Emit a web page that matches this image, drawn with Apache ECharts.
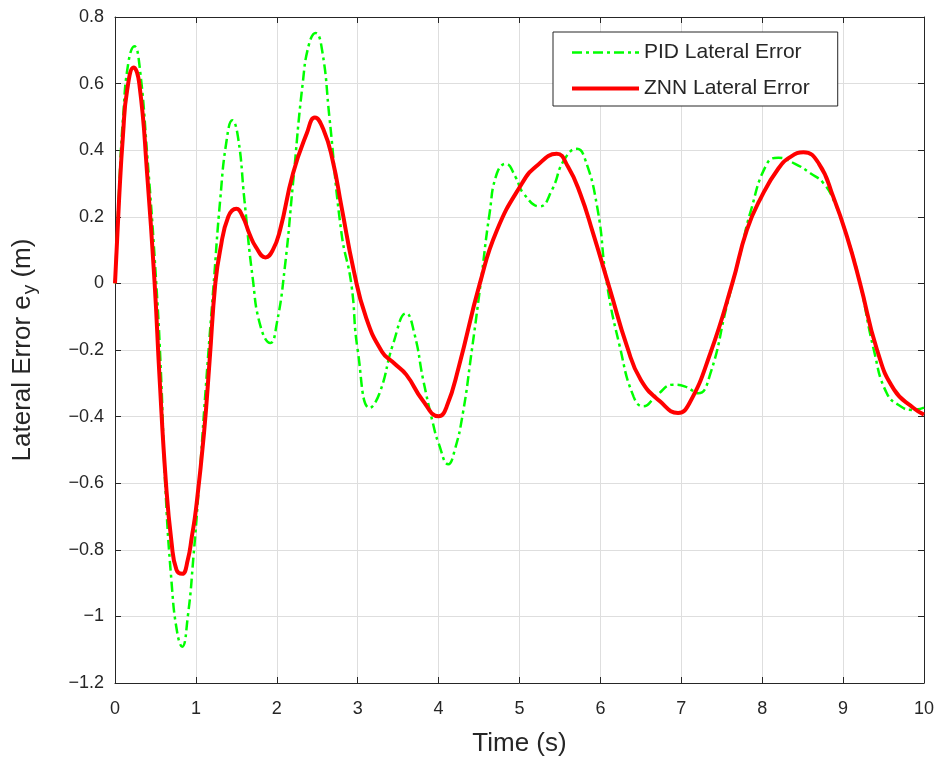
<!DOCTYPE html>
<html>
<head>
<meta charset="utf-8">
<script src="https://cdn.jsdelivr.net/npm/echarts@6/dist/echarts.min.js"></script>
<style>
  html, body { margin: 0; padding: 0; background: #fff; }
  #main { width: 948px; height: 767px; }
</style>
</head>
<body>
<div id="main"></div>
<script>
(function(){
  'use strict';

  // PID 横向误差
  var pidTime = [0, 0.05, 0.1, 0.17, 0.24, 0.3, 0.4, 0.51, 0.57, 0.62, 0.7, 0.77, 0.83, 0.9, 0.97, 1.04, 1.12, 1.22,
    1.3, 1.38, 1.45, 1.52, 1.6, 1.7, 1.8, 1.92, 2.0, 2.1, 2.2, 2.32, 2.4, 2.48, 2.56, 2.65, 2.8, 2.92,
    3.0, 3.15, 3.27, 3.44, 3.6, 3.7, 3.81, 3.93, 4.0, 4.12, 4.2, 4.3, 4.4, 4.52, 4.63, 4.72, 4.83, 4.95,
    5.05, 5.25, 5.4, 5.55, 5.71, 5.8, 5.96, 6.08, 6.24, 6.41, 6.53, 6.7, 6.9, 7.05, 7.21, 7.36, 7.56,
    7.73, 7.85, 8.06, 8.2, 8.4, 8.6, 8.76, 8.9, 9.05, 9.2, 9.38, 9.54, 9.71, 9.85, 10];
  var pidValues = [0, 0.28, 0.5, 0.67, 0.712, 0.66, 0.38, 0, -0.28, -0.6, -0.9, -1.05, -1.091, -1.0, -0.82, -0.6, -0.32, 0,
    0.25, 0.43, 0.49, 0.44, 0.25, 0.02, -0.13, -0.179, -0.12, 0.05, 0.3, 0.6, 0.72, 0.752, 0.7, 0.5, 0.15, 0,
    -0.2, -0.374, -0.33, -0.18, -0.09, -0.15, -0.29, -0.42, -0.48, -0.543, -0.5, -0.39, -0.22, 0, 0.21, 0.33, 0.359, 0.32,
    0.27, 0.231, 0.28, 0.37, 0.404, 0.38, 0.23, 0, -0.19, -0.34, -0.369, -0.335, -0.304, -0.31, -0.33, -0.27, -0.07,
    0.09, 0.21, 0.36, 0.377, 0.36, 0.33, 0.3, 0.24, 0.14, 0.01, -0.2, -0.33, -0.369, -0.38, -0.373];

  // ZNN 横向误差
  var znnTime = [0, 0.05, 0.1, 0.15, 0.23, 0.3, 0.4, 0.49, 0.55, 0.63, 0.7, 0.76, 0.83, 0.9, 0.95, 1.0, 1.1, 1.17, 1.24,
    1.3, 1.4, 1.5, 1.58, 1.66, 1.74, 1.86, 1.95, 2.04, 2.2, 2.37, 2.47, 2.58, 2.69, 2.8, 2.95, 3.1, 3.3, 3.45, 3.6, 3.8, 4.0,
    4.1, 4.25, 4.51, 4.72, 5.03, 5.2, 5.46, 5.6, 5.75, 5.91, 6.12, 6.33, 6.5, 6.74, 6.96, 7.1, 7.36, 7.63,
    7.81, 7.99, 8.2, 8.35, 8.51, 8.7, 8.88, 9.05, 9.21, 9.42, 9.63, 9.87, 10];
  var znnValues = [0, 0.25, 0.45, 0.58, 0.648, 0.6, 0.32, 0, -0.28, -0.6, -0.78, -0.86, -0.872, -0.83, -0.76, -0.68, -0.45, -0.23, 0,
    0.1, 0.2, 0.224, 0.2, 0.15, 0.11, 0.078, 0.1, 0.16, 0.33, 0.45, 0.498, 0.46, 0.37, 0.23, 0.04, -0.1, -0.205, -0.24, -0.274, -0.35, -0.399,
    -0.37, -0.25, 0, 0.159, 0.3, 0.35, 0.389, 0.35, 0.27, 0.15, -0.02, -0.19, -0.29, -0.355, -0.389, -0.36, -0.209, 0,
    0.16, 0.26, 0.345, 0.38, 0.394, 0.36, 0.259, 0.139, 0, -0.2, -0.319, -0.374, -0.394];

  var seriesNames = ['PID Lateral Error', 'ZNN Lateral Error'];

  function pairs(xs, ys) {
    return xs.map(function(x, i){ return [x, ys[i]]; });
  }

  function fmtY(v) {
    var n = +(+v).toFixed(1);
    return n < 0 ? '\u2212' + Math.abs(n) : String(n);
  }

  var textColor = '#262626';
  var gridColor = '#dedede';
  var font = 'Liberation Sans, Arial, sans-serif';

  var myChart = echarts.init(document.getElementById('main'));

  var option = {
    animation: false,
    textStyle: { fontFamily: font },
    grid: { left: 115, right: 24, top: 17, bottom: 84 },
    legend: {
      data: [
        { name: seriesNames[0], lineStyle: { width: 2.5 } },
        { name: seriesNames[1], lineStyle: { width: 4 } }
      ],
      orient: 'vertical',
      left: 553,
      top: 32,
      padding: [10, 28, 7, 17],
      itemWidth: 67,
      itemHeight: 16,
      itemGap: 15,
      borderColor: '#262626',
      borderWidth: 1,
      backgroundColor: '#fff',
      itemStyle: { opacity: 0, borderWidth: 0 },
      textStyle: { fontSize: 21, color: textColor, fontFamily: font }
    },
    xAxis: [{
      type: 'value',
      min: 0, max: 10, interval: 1,
      name: 'Time (s)',
      nameLocation: 'middle',
      nameGap: 48,
      nameTextStyle: { fontSize: 26, color: textColor },
      axisLine: { show: true, onZero: false, lineStyle: { color: textColor, width: 1 } },
      axisTick: { inside: true, length: 6, lineStyle: { color: textColor } },
      axisLabel: { fontSize: 18, color: textColor, margin: 17 },
      splitLine: { show: true, lineStyle: { color: gridColor } }
    }, {
      type: 'value', position: 'top',
      min: 0, max: 10, interval: 1,
      axisLine: { show: true, onZero: false, lineStyle: { color: textColor, width: 1 } },
      axisTick: { inside: true, length: 6, lineStyle: { color: textColor } },
      axisLabel: { show: false },
      splitLine: { show: false }
    }],
    yAxis: [{
      type: 'value',
      min: -1.2, max: 0.8, interval: 0.2,
      name: '{a|Lateral Error e}{s|y}{a| (m)}',
      nameLocation: 'middle',
      nameGap: 76,
      nameTextStyle: {
        rich: {
          a: { fontSize: 26, color: textColor, fontFamily: font },
          s: { fontSize: 19, color: textColor, fontFamily: font, padding: [13, 0, 0, 1] }
        }
      },
      axisLine: { show: true, onZero: false, lineStyle: { color: textColor, width: 1 } },
      axisTick: { inside: true, length: 6, lineStyle: { color: textColor } },
      axisLabel: { fontSize: 18, color: textColor, margin: 11, formatter: fmtY },
      splitLine: { show: true, lineStyle: { color: gridColor } }
    }, {
      type: 'value', position: 'right',
      min: -1.2, max: 0.8, interval: 0.2,
      axisLine: { show: true, onZero: false, lineStyle: { color: textColor, width: 1 } },
      axisTick: { inside: true, length: 6, lineStyle: { color: textColor } },
      axisLabel: { show: false },
      splitLine: { show: false }
    }],
    series: [{
      name: seriesNames[0],
      type: 'line',
      data: pairs(pidTime, pidValues),
      smooth: 0.5,
      showSymbol: false,
      symbol: 'none',
      color: '#00ff00',
      lineStyle: { color: '#00ff00', width: 2.5, type: [10, 4, 3, 4] },
      z: 2
    }, {
      name: seriesNames[1],
      type: 'line',
      data: pairs(znnTime, znnValues),
      smooth: 0.5,
      showSymbol: false,
      symbol: 'none',
      color: '#ff0000',
      lineStyle: { color: '#ff0000', width: 4 },
      z: 3
    }]
  };

  myChart.setOption(option);
}());
</script>
</body>
</html>
